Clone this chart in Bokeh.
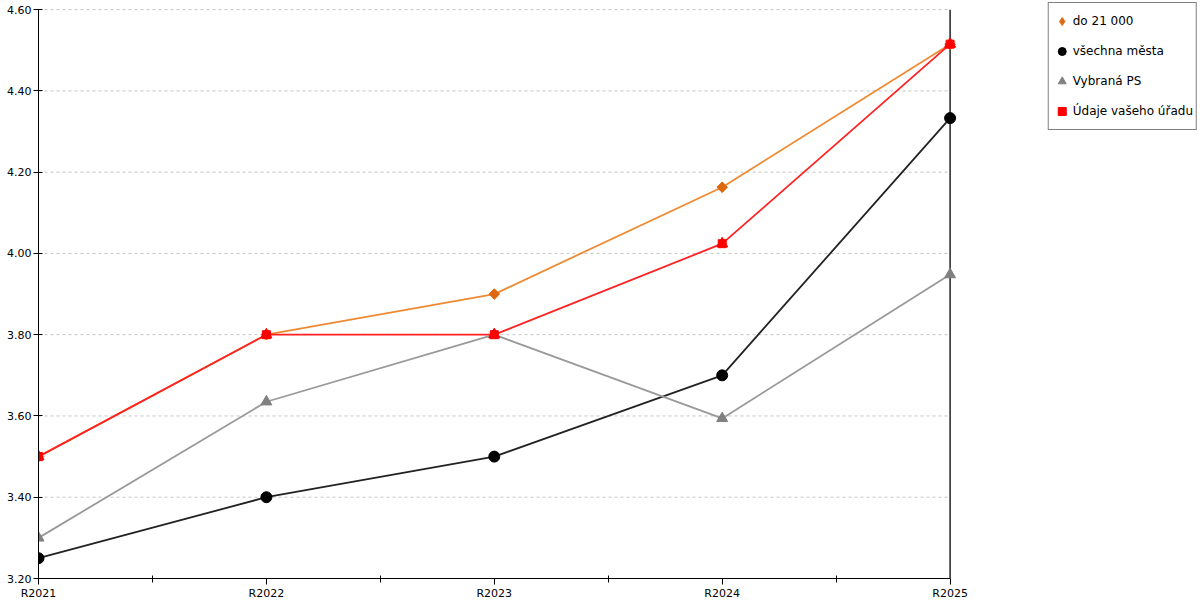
import math
from bokeh.plotting import figure
from bokeh.models import (Range1d, FixedTicker, LinearAxis, Legend, LegendItem,
                          CustomJSTickFormatter)
from bokeh.embed import file_html
from bokeh.resources import INLINE

# ---- data ----
categories = ["R2021", "R2022", "R2023", "R2024", "R2025"]
do_21000 = [3.50, 3.80, 3.90, 4.163, 4.515]
vsechna_mesta = [3.25, 3.40, 3.50, 3.70, 4.333]
vybrana_ps = [3.30, 3.635, 3.80, 3.594, 3.948]
vas_urad = [3.50, 3.80, 3.80, 4.024, 4.515]
y_ticks = [3.20, 3.40, 3.60, 3.80, 4.00, 4.20, 4.40, 4.60]
series_names = ["do 21 000", "všechna města", "Vybraná PS", "Údaje vašeho úřadu"]

xs = list(range(len(categories)))

FONT = "DejaVu Sans"

# the frame also holds the legend area to the right of the last category
p = figure(frame_width=1160, frame_height=577, min_border_left=38,
           min_border_right=0, min_border_top=1, min_border_bottom=20,
           output_backend="svg", toolbar_location=None,
           x_range=Range1d(xs[0], 5.09),
           y_range=Range1d(y_ticks[0], 4.62),
           x_axis_type=None, y_axis_type=None)
p.outline_line_color = None
p.background_fill_color = "white"
p.border_fill_color = "white"
p.xgrid.visible = False
p.ygrid.visible = False

# axes
xaxis = LinearAxis(ticker=FixedTicker(ticks=xs,
                                      minor_ticks=[i + 0.5 for i in xs[:-1]]))
xaxis.bounds = (xs[0], xs[-1])
xaxis.major_label_overrides = {i: c for i, c in enumerate(categories)}
xaxis.major_tick_in = 0
xaxis.major_tick_out = 6
xaxis.minor_tick_in = 3
xaxis.minor_tick_out = 4
xaxis.minor_tick_line_color = "black"
xaxis.major_label_standoff = 2
xaxis.major_label_text_font = FONT
xaxis.major_label_text_font_size = "11px"
xaxis.major_label_text_color = "black"
xaxis.axis_line_color = "black"
p.add_layout(xaxis, "below")

yaxis = LinearAxis(ticker=FixedTicker(ticks=y_ticks))
yaxis.bounds = (y_ticks[0], y_ticks[-1])
yaxis.formatter = CustomJSTickFormatter(code="return tick.toFixed(2);")
yaxis.major_tick_in = 4
yaxis.major_tick_out = 5
yaxis.minor_tick_line_color = None
yaxis.major_label_standoff = 2
yaxis.major_label_text_font = FONT
yaxis.major_label_text_font_size = "11px"
yaxis.major_label_text_color = "black"
yaxis.axis_line_color = "black"
p.add_layout(yaxis, "left")

# dashed horizontal grid between the first and last category
n = len(y_ticks)
p.segment(x0=[xs[0]] * n, x1=[xs[-1]] * n, y0=y_ticks, y1=y_ticks,
          line_color="#C4C4C4", line_dash="3 3", line_width=1)
# right border line at the last category
p.segment(x0=[xs[-1]], x1=[xs[-1]], y0=[y_ticks[0]], y1=[y_ticks[-1]],
          line_color="black", line_width=1.3)

# series
p.line(xs, do_21000, line_color="#EE8A33", line_width=1.8)
p.scatter(xs, do_21000, marker="square", angle=math.pi / 4, size=7.5,
          fill_color="#DD6A11", line_color="#DD6A11")
r_orange = p.scatter(xs, do_21000, marker="diamond", size=10,
                     fill_color="#DD6A11", line_color="#DD6A11")

p.line(xs, vsechna_mesta, line_color="#222222", line_width=1.8)
r_black = p.scatter(xs, vsechna_mesta, marker="circle", size=11,
                    fill_color="black", line_color="black")

p.line(xs, vybrana_ps, line_color="#999999", line_width=1.8)
r_gray = p.scatter(xs, vybrana_ps, marker="triangle", size=11,
                   fill_color="#808080", line_color="#808080")

p.line(xs, vas_urad, line_color="#FF2222", line_width=1.8)
r_red_sq = p.scatter(xs, vas_urad, marker="square", size=8,
                     fill_color="#FF0000", line_color="#FF0000")
r_red_tri = p.scatter(xs, vas_urad, marker="triangle", size=11,
                      fill_color="#FF0000", line_color="#FF0000")

legend = Legend(items=[
    LegendItem(label=series_names[0], renderers=[r_orange]),
    LegendItem(label=series_names[1], renderers=[r_black]),
    LegendItem(label=series_names[2], renderers=[r_gray]),
    LegendItem(label=series_names[3], renderers=[r_red_sq, r_red_tri]),
])
legend.location = "top_right"
legend.border_line_color = "black"
legend.border_line_width = 1
legend.background_fill_color = "white"
legend.background_fill_alpha = 1
legend.label_text_font = FONT
legend.label_text_font_size = "12px"
legend.label_text_color = "black"
legend.glyph_width = 20
legend.glyph_height = 30
legend.label_height = 30
legend.spacing = 0
legend.padding = 3
legend.margin = 1
legend.label_standoff = 1
p.add_layout(legend, "center")

open("out.html", "w").write(file_html(p, INLINE))
